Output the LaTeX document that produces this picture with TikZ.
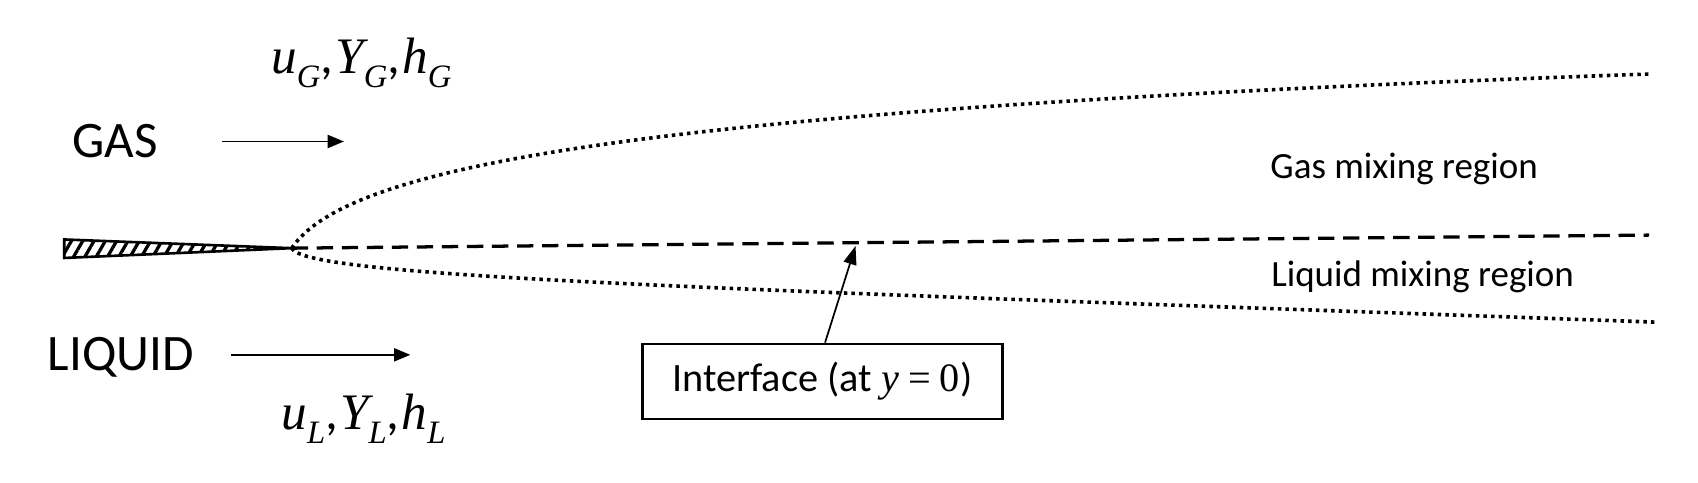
\documentclass[tikz,border=0pt]{standalone}
\usepackage{fontspec}
\setmainfont{Carlito}
\newfontfamily\mfont{Liberation Serif}
\newcommand{\mv}[2]{{\mfont\itshape #1}\raisebox{-0.28em}{\mfont\itshape\fontsize{30}{30}\selectfont #2}}
\usetikzlibrary{patterns.meta,arrows.meta}
\begin{document}
\begin{tikzpicture}[x=1pt,y=-1pt,
  big/.style={font=\fontsize{47}{50}\selectfont},
  mid/.style={font=\fontsize{34}{36}\selectfont},
  flow/.style={-{Triangle[length=15pt,width=12pt]},line width=1.8pt},
  bound/.style={dash pattern=on 3.2pt off 3.8pt,line width=3.3pt},
  iface/.style={dash pattern=on 15pt off 8pt,line width=3pt}]
\useasboundingbox (0,0) rectangle (1560,443);
\node[big] (ug) at (332,58) {\mv{u}{G},\kern2pt\mv{Y}{G},\kern2pt\mv{h}{G}};
\node[big] (gas) at (106,130) {GAS};
\coordinate (ga1) at (204,130); \coordinate (ga2) at (316,130);
\draw[flow] (ga1) -- (ga2);
\node[big] (liq) at (111,328) {LIQUID};
\coordinate (la1) at (212,326); \coordinate (la2) at (377,326);
\draw[flow] (la1) -- (la2);
\node[big] (ul) at (334,385) {\mv{u}{L},\kern2pt\mv{Y}{L},\kern2pt\mv{h}{L}};
\coordinate (tip) at (268,228);
\draw[line width=2.4pt,pattern={Lines[angle=60,distance=9pt,line width=3pt]},pattern color=black] (59,220) -- (tip) -- (59,237) -- cycle;
\coordinate (ue) at (1515,68); \coordinate (le) at (1522,296); \coordinate (de) at (1515,216);
\draw[bound] (tip) .. controls (320,150) and (600,100) .. (ue);
\draw[bound] (tip) .. controls (280,255) and (650,265) .. (le);
\draw[iface] (tip) -- (de);
\node[mid] (gm) at (1290,155) {Gas mixing region};
\node[mid] (lm) at (1307,254) {Liquid mixing region};
\node[font=\fontsize{37}{40}\selectfont,draw,line width=2.4pt,minimum width=331pt,minimum height=69pt] (box) at (755.5,350.5) {Interface (at {\mfont\itshape y} {\mfont=} {\mfont 0})};
\coordinate (ip) at (786,226);
\draw[-{Triangle[length=17pt,width=12pt]},line width=1.6pt] (box.north -| 758,0) -- (ip);
\end{tikzpicture}
\end{document}
